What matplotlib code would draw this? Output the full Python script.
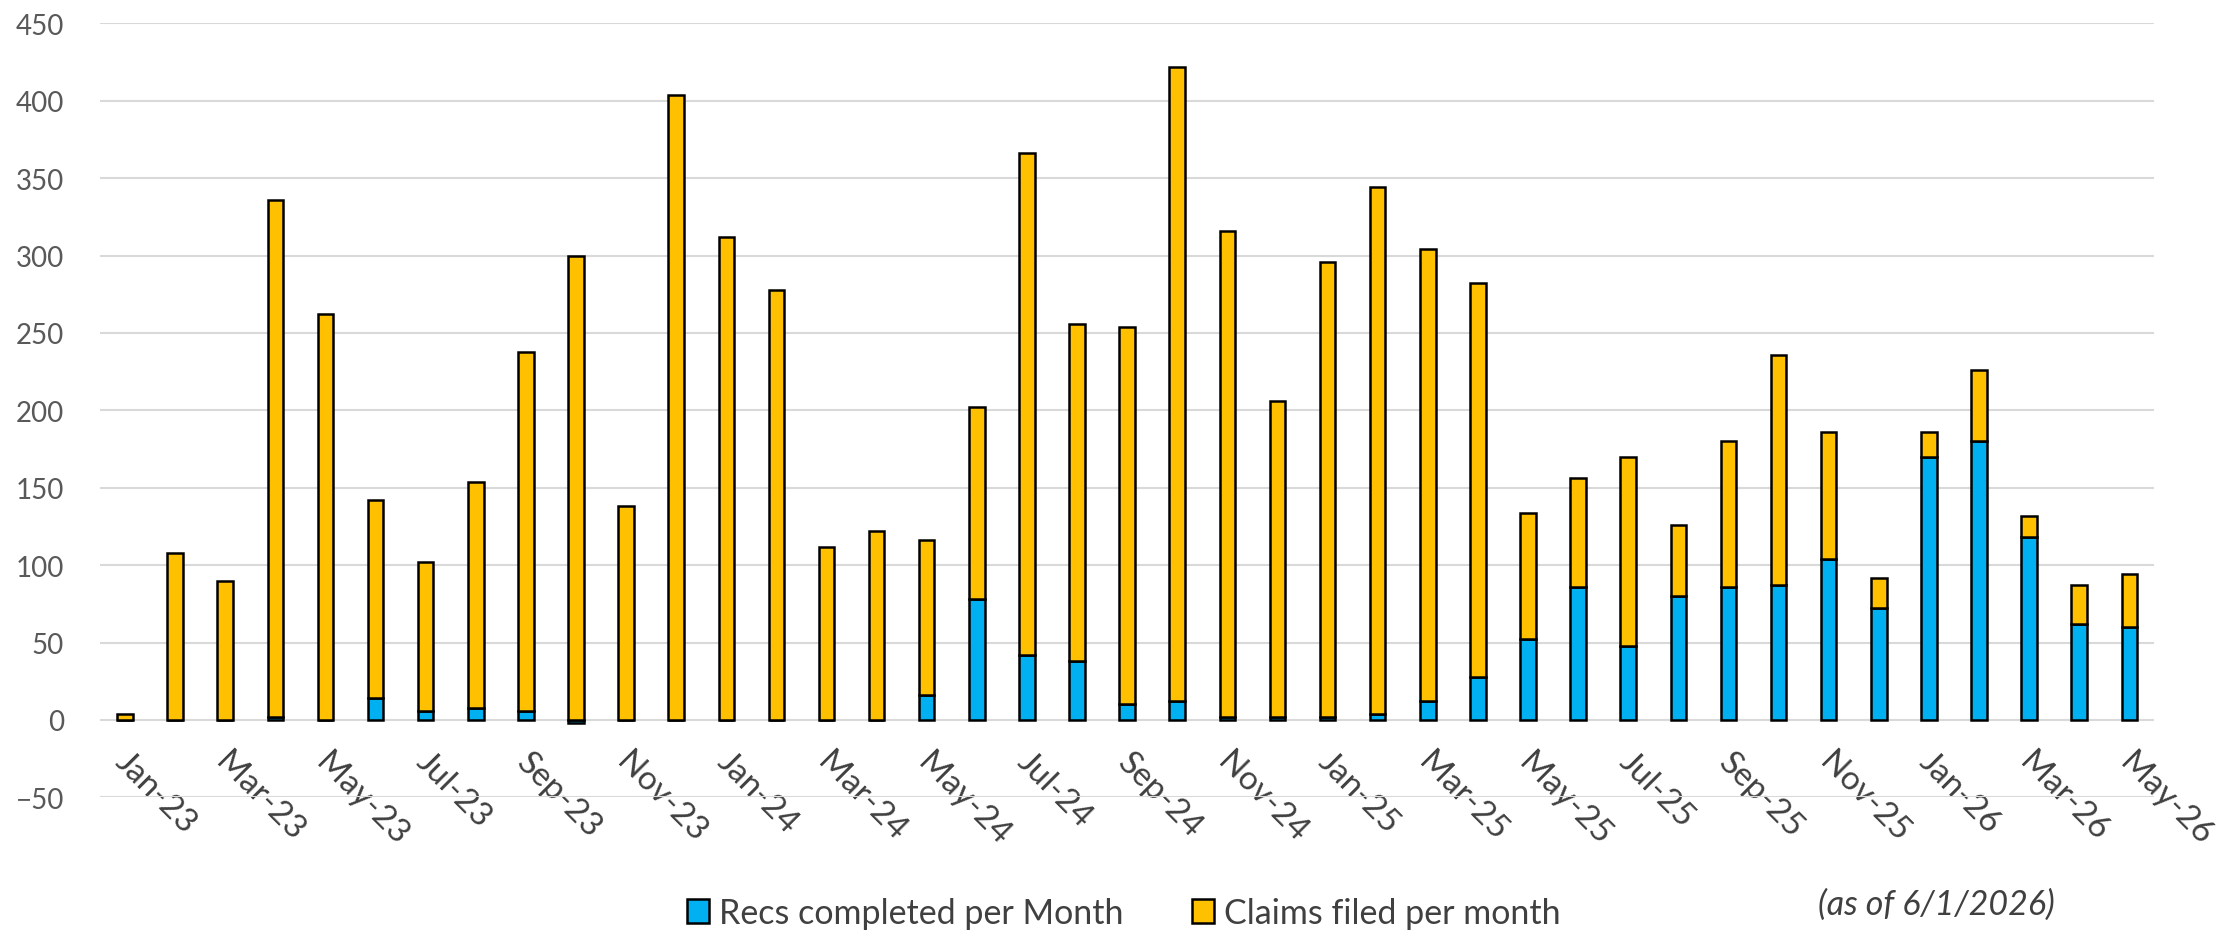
import numpy as np
import matplotlib
matplotlib.use('Agg')
import matplotlib.pyplot as plt
import matplotlib.transforms as mtransforms

plt.rcParams['font.family'] = ['Lato', 'DejaVu Sans']

months = ['Jan-23', 'Feb-23', 'Mar-23', 'Apr-23', 'May-23', 'Jun-23', 'Jul-23', 'Aug-23',
          'Sep-23', 'Oct-23', 'Nov-23', 'Dec-23', 'Jan-24', 'Feb-24', 'Mar-24', 'Apr-24',
          'May-24', 'Jun-24', 'Jul-24', 'Aug-24', 'Sep-24', 'Oct-24', 'Nov-24', 'Dec-24',
          'Jan-25', 'Feb-25', 'Mar-25', 'Apr-25', 'May-25', 'Jun-25', 'Jul-25', 'Aug-25',
          'Sep-25', 'Oct-25', 'Nov-25', 'Dec-25', 'Jan-26', 'Feb-26', 'Mar-26', 'Apr-26',
          'May-26']

recs = [0, 0, 0, 2, 0, 14, 6, 8,
        6, -2, 0, 0, 0, 0, 0, 0,
        16, 78, 42, 38, 10, 12, 2, 2,
        2, 4, 12, 28, 52, 86, 48, 80,
        86, 87, 104, 72, 170, 180, 118, 62,
        60]

claims = [4, 108, 90, 334, 262, 128, 96, 146,
          232, 300, 138, 404, 312, 278, 112, 122,
          100, 124, 324, 218, 244, 410, 314, 204,
          294, 340, 292, 254, 82, 70, 122, 46,
          94, 149, 82, 20, 16, 46, 14, 25,
          34]

yticks = list(range(-50, 451, 50))

x = np.arange(len(months))
recs = np.array(recs)
claims = np.array(claims)

fig = plt.figure(figsize=(22.21, 9.37), dpi=100)
ax = fig.add_axes([0.045, 0.148, 0.925, 0.826])

ax.bar(x, recs, width=0.31, color='#00B0F0', edgecolor='black', linewidth=1.8,
       label='Recs completed per Month', zorder=3)
ax.bar(x, claims, width=0.31, bottom=np.maximum(recs, 0), color='#FFC000',
       edgecolor='black', linewidth=1.8, label='Claims filed per month', zorder=3)

ax.set_xlim(-0.5, len(months) - 0.5)
ax.set_ylim(-50, 450)
ax.set_yticks(yticks)
ax.yaxis.grid(True, color='#D9D9D9', linewidth=1.5, zorder=0)
ax.set_axisbelow(True)
for s in ax.spines.values():
    s.set_visible(False)
ax.tick_params(axis='y', length=0, pad=26, labelsize=20, labelcolor='#595959')

# category labels sit under the zero line, like Excel
ax.spines['bottom'].set_position(('data', 0))
ax.set_xticks(x[::2])
ax.set_xticklabels(months[::2], rotation=-45, ha='left', va='top',
                   rotation_mode='anchor', fontsize=24, color='#404040')
ax.tick_params(axis='x', length=0, pad=19)
shift = mtransforms.ScaledTranslation(6 / 100, 0, fig.dpi_scale_trans)
for lab in ax.get_xticklabels():
    lab.set_transform(lab.get_transform() + shift)

fig.legend(loc='center', bbox_to_anchor=(0.506, 0.025), ncol=2, frameon=False,
           fontsize=24.5, handlelength=0.65, handleheight=0.7, handletextpad=0.3,
           columnspacing=2.0, labelcolor='#404040')
fig.text(0.872, 0.034, '(as of 6/1/2026)', fontsize=24.5, style='italic',
         color='#404040', ha='center', va='center')

fig.savefig('out.png', dpi=100)
